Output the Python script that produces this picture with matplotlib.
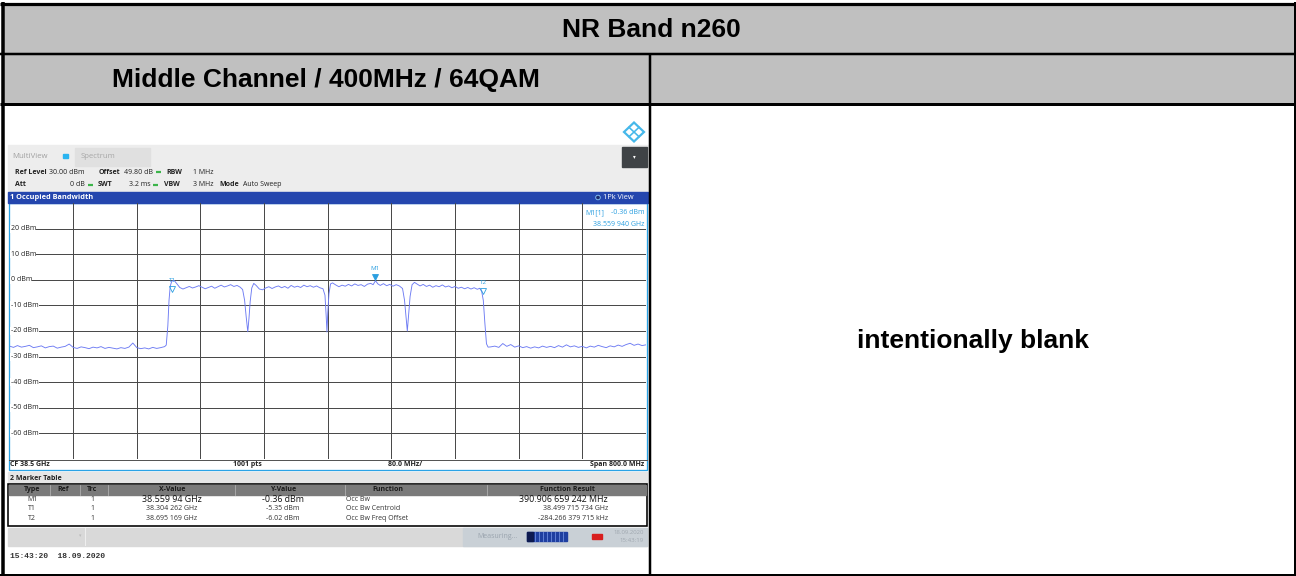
import matplotlib
matplotlib.use('Agg')
import matplotlib.pyplot as plt
from matplotlib.patches import Rectangle, Polygon

# ---------------- data ----------------
title_text = "NR Band n260"
subtitle_text = "Middle Channel / 400MHz / 64QAM"
blank_text = "intentionally blank"

freq_mhz = [
    38100, 38105, 38110, 38115, 38120, 38125, 38130, 38135, 38140, 38145,
    38150, 38155, 38160, 38165, 38170, 38175, 38180, 38185, 38190, 38195,
    38200, 38205, 38210, 38215, 38220, 38225, 38230, 38235, 38240, 38245,
    38250, 38255, 38260, 38265, 38270, 38275, 38280, 38285, 38290, 38295,
    38297, 38299, 38300.5, 38302, 38304, 38307, 38310, 38314, 38318, 38322,
    38326, 38330, 38334, 38338, 38342, 38346, 38350, 38354, 38358, 38362,
    38366, 38370, 38374, 38378, 38382, 38386, 38390, 38393, 38395.5, 38397.5,
    38399.5, 38401, 38402.5, 38404.5, 38407, 38410, 38414, 38418, 38422, 38426,
    38430, 38434, 38438, 38442, 38446, 38450, 38454, 38458, 38462, 38466,
    38470, 38474, 38478, 38482, 38486, 38490, 38494, 38496.5, 38498, 38499,
    38500, 38501.5, 38503.5, 38506, 38510, 38514, 38518, 38522, 38526, 38530,
    38534, 38538, 38542, 38546, 38550, 38554, 38557, 38560, 38563, 38566,
    38570, 38574, 38578, 38582, 38586, 38590, 38594, 38596.5, 38598.5, 38600,
    38601.5, 38603.5, 38606, 38609, 38612, 38616, 38620, 38624, 38628, 38632,
    38636, 38640, 38644, 38648, 38652, 38656, 38660, 38664, 38668, 38672,
    38676, 38680, 38684, 38688, 38691, 38693.5, 38695.5, 38697.5, 38699.5, 38701.5,
    38705, 38710, 38715, 38720, 38725, 38730, 38735, 38740, 38745, 38750,
    38755, 38760, 38765, 38770, 38775, 38780, 38785, 38790, 38795, 38800,
    38805, 38810, 38815, 38820, 38825, 38830, 38835, 38840, 38845, 38850,
    38855, 38860, 38865, 38870, 38875, 38880, 38885, 38890, 38895, 38900,
]
level_dbm = [
    -25.9, -26.4, -25.7, -26.3, -26.0, -25.6, -26.5, -26.2, -25.8, -26.6,
    -26.1, -25.9, -26.7, -26.3, -26.0, -25.1, -26.4, -26.8, -26.2, -26.5,
    -26.9, -26.3, -26.6, -26.1, -26.8, -26.4, -26.7, -27.0, -26.5, -26.8,
    -26.3, -24.7, -26.5, -26.9, -26.6, -27.0, -26.4, -26.8, -26.5, -26.1,
    -25.5, -18.0, -8.0, -2.5, -0.5, -0.3, -1.4, -3.0, -3.6, -3.1,
    -2.6, -3.2, -2.8, -2.3, -2.9, -3.5, -3.0, -2.5, -3.3, -2.7,
    -2.1, -2.8, -2.4, -1.9, -2.6, -2.2, -2.9, -3.8, -8.0, -14.5,
    -20.3, -15.0, -8.5, -3.2, -1.4, -2.2, -3.6, -3.9, -3.2, -2.7,
    -3.4, -2.8, -2.4, -3.1, -2.6, -3.3, -2.2, -2.9, -2.5, -3.0,
    -2.1, -2.7, -2.3, -2.9, -2.4, -3.1, -3.5, -6.0, -14.0, -20.4,
    -13.0, -5.5, -1.6, -1.2, -2.0, -2.7, -2.1, -2.5, -1.8, -2.4,
    -1.6, -2.2, -1.9, -2.6, -1.7, -1.4, -1.9, -0.36, -1.6, -2.2,
    -1.5, -2.3, -1.8, -2.5, -1.9, -2.4, -3.4, -8.0, -15.0, -20.0,
    -14.0, -6.5, -1.9, -1.0, -1.6, -2.4, -1.8, -2.6, -2.1, -2.9,
    -2.3, -2.7, -2.0, -2.8, -2.4, -3.1, -2.6, -3.3, -2.9, -3.5,
    -3.0, -3.6, -3.1, -3.7, -3.3, -4.6, -8.0, -17.0, -25.0, -26.3,
    -26.2, -25.9, -26.4, -24.9, -26.0, -25.3, -26.3, -25.8, -26.5, -26.1,
    -26.7, -26.2, -26.6, -25.9, -26.4, -26.0, -26.5, -25.7, -26.3, -25.4,
    -26.2, -25.8, -26.4, -26.0, -26.6, -25.9, -26.3, -25.6, -26.1, -26.5,
    -25.8, -26.2, -25.5, -26.0, -25.3, -24.8, -25.6, -25.1, -25.7, -25.4,
]
y_tick_values = [20, 10, 0, -10, -20, -30, -40, -50, -60]
y_tick_labels = ["20 dBm", "10 dBm", "0 dBm", "-10 dBm", "-20 dBm",
                 "-30 dBm", "-40 dBm", "-50 dBm", "-60 dBm"]
marker_names = ["M1", "T1", "T2"]
marker_freq_mhz = [38559.94, 38304.262, 38695.169]
marker_level_dbm = [-0.36, -5.35, -6.02]

table_header = ["Type", "Ref", "Trc", "X-Value", "Y-Value", "Function", "Function Result"]
table_type = ["M1", "T1", "T2"]
table_trc = ["1", "1", "1"]
table_x = ["38.559 94 GHz", "38.304 262 GHz", "38.695 169 GHz"]
table_y = ["-0.36 dBm", "-5.35 dBm", "-6.02 dBm"]
table_func = ["Occ Bw", "Occ Bw Centroid", "Occ Bw Freq Offset"]
table_result = ["390.906 659 242 MHz", "38.499 715 734 GHz", "-284.266 379 715 kHz"]

# ---------------- figure ----------------
W, H = 1296, 576
fig = plt.figure(figsize=(W / 100, H / 100), dpi=100)
bg = fig.add_axes([0, 0, 1, 1])
bg.set_xlim(0, W)
bg.set_ylim(H, 0)
bg.axis('off')
PX = 0.72  # one pixel in points

SF = 'Open Sans'

# table cells
bg.add_patch(Rectangle((2, 4), 1293, 100, color='#c0c0c0', zorder=0))
lk = dict(color='black', solid_capstyle='butt', zorder=5)
bg.plot([0, W], [3.5, 3.5], lw=3.2 * PX, **lk)
bg.plot([2.5, 2.5], [2, 576], lw=3.5 * PX, **lk)
bg.plot([1294.5, 1294.5], [2, 576], lw=2 * PX, **lk)
bg.plot([0, W], [575, 575], lw=2 * PX, **lk)
bg.plot([0, W], [53.5, 53.5], lw=2.5 * PX, **lk)
bg.plot([0, W], [103.5, 103.5], lw=3 * PX, **lk)
bg.plot([650, 650], [54, 576], lw=2.5 * PX, **lk)

hf = dict(family='Liberation Sans', weight='bold', fontsize=19, color='black',
          ha='center', va='center')
bg.text(651, 30, title_text, **hf)
bg.text(326, 80, subtitle_text, **hf)
bg.text(973, 341, blank_text, **hf)

# ---- screenshot chrome ----
# logo
cx, cy = 634, 132
bg.add_patch(Polygon([(cx - 10, cy), (cx, cy - 9.5), (cx + 10, cy), (cx, cy + 9.5)],
                     closed=True, fill=False, ec='#46b8ea', lw=2.2 * PX, zorder=3))
bg.plot([cx - 5, cx + 5], [cy - 4.7, cy + 4.7], color='#46b8ea', lw=1.6 * PX, zorder=3)
bg.plot([cx - 5, cx + 5], [cy + 4.7, cy - 4.7], color='#46b8ea', lw=1.6 * PX, zorder=3)

# gray toolbar / settings area
bg.add_patch(Rectangle((8, 145), 640, 47, color='#ededed', zorder=1))
bg.add_patch(Rectangle((75, 148), 75, 18, color='#e0e0e0', zorder=2))
bg.add_patch(Rectangle((622, 147), 25, 20, color='#3f4346', zorder=2))
bg.text(634.5, 157, '\u25be', fontsize=4, color='white', ha='center', va='center',
        family='DejaVu Sans', zorder=3)
bg.text(12, 157, 'MultiView', fontsize=5.6, color='#a0a0a0', family=SF, va='center', zorder=3)
bg.add_patch(Rectangle((63, 154), 5, 4, color='#2ab4f0', zorder=3))
bg.text(81, 157, 'Spectrum', fontsize=5.6, color='#a8a8a8', family=SF, va='center', zorder=3)

st = dict(fontsize=5.0, family=SF, va='center', color='#222222', zorder=3)
sb = dict(st, weight='bold')
gdot = dict(color='#3cb44a', lw=2.2 * PX, solid_capstyle='butt', zorder=3)
bg.text(15, 172, 'Ref Level', **sb)
bg.text(49, 172, '30.00 dBm', **st)
bg.text(99, 172, 'Offset', **sb)
bg.text(124, 172, '49.80 dB', **st)
bg.plot([156, 161], [172, 172], **gdot)
bg.text(166, 172, 'RBW', **sb)
bg.text(193, 172, '1 MHz', **st)
bg.text(15, 185, 'Att', **sb)
bg.text(70, 185, '0 dB', **st)
bg.plot([88, 93], [185, 185], **gdot)
bg.text(98, 185, 'SWT', **sb)
bg.text(129, 185, '3.2 ms', **st)
bg.plot([153, 158], [185, 185], **gdot)
bg.text(164, 185, 'VBW', **sb)
bg.text(193, 185, '3 MHz', **st)
bg.text(219, 185, 'Mode', **sb)
bg.text(243, 185, 'Auto Sweep', **st)

# blue title bar
bg.add_patch(Rectangle((8, 192), 640, 11, color='#2446ae', zorder=2))
bg.text(10, 197.5, '1 Occupied Bandwidth', fontsize=5.3, family=SF, weight='bold',
        color='white', va='center', zorder=3)
bg.add_patch(plt.Circle((598, 197.5), 2.3, fc='#1a2a6e', ec='#8fd0ff', lw=0.8 * PX, zorder=3))
bg.text(603, 197.5, '1Pk View', fontsize=5.3, family=SF, color='white', va='center', zorder=3)

# plot frame (white area + blue border)
bg.add_patch(Rectangle((8.5, 203), 638.5, 267, fc='white', ec='#2aa3e6', lw=1.3 * PX, zorder=1))
bg.plot([9, 646.5], [459.5, 459.5], color='#555555', lw=1 * PX, zorder=2)
fb = dict(fontsize=5.0, family=SF, weight='bold', color='#222222', va='center', zorder=3)
bg.text(10, 464.5, 'CF 38.5 GHz', **fb)
bg.text(247, 464.5, '1001 pts', ha='center', **fb)
bg.text(405, 464.5, '80.0 MHz/', ha='center', **fb)
bg.text(644, 464.5, 'Span 800.0 MHz', ha='right', **fb)

# marker table
bg.add_patch(Rectangle((8, 472), 639, 11, color='#e6e6e6', zorder=1))
bg.text(10, 478, '2 Marker Table', fontsize=5.0, family=SF, weight='bold', color='#222222',
        va='center', zorder=3)
bg.add_patch(Rectangle((8, 483.5), 638.5, 42.5, fc='white', ec='black', lw=1.6 * PX, zorder=2))
bg.add_patch(Rectangle((9, 484.5), 637, 10, color='#7a7a7a', zorder=3))
for xs in [50, 80, 108, 235, 345, 487]:
    bg.plot([xs, xs], [484.5, 494.5], color='#b0b0b0', lw=0.8 * PX, zorder=4)
hx = [32, 63, 92, 172, 283, 388, 567]
for t, x in zip(table_header, hx):
    bg.text(x, 489.5, t, fontsize=5.0, family=SF, weight='bold', color='#1a1a1a',
            ha='center', va='center', zorder=5)
ry = [499.5, 509, 518]
for i in range(3):
    big = (i == 0)
    fs = 6.4 if big else 5.0
    col = '#111111' if big else '#333333'
    rk = dict(family=SF, va='center', zorder=5, color='#333333', fontsize=5.0)
    bg.text(32, ry[i], table_type[i], ha='center', **rk)
    bg.text(92, ry[i], table_trc[i], ha='center', **rk)
    bg.text(172, ry[i], table_x[i], ha='center', fontsize=fs, color=col,
            family=SF, va='center', zorder=5)
    bg.text(283, ry[i], table_y[i], ha='center', fontsize=fs, color=col,
            family=SF, va='center', zorder=5)
    bg.text(346, ry[i], table_func[i], ha='left', **rk)
    bg.text(608, ry[i], table_result[i], ha='right', fontsize=fs, color=col,
            family=SF, va='center', zorder=5)

# status bar
bg.add_patch(Rectangle((8, 527.5), 639, 18, color='#d9d9d9', zorder=1))
bg.add_patch(Rectangle((463, 527.5), 184, 18, color='#c9d0d6', zorder=2))
bg.plot([85, 85], [528, 545], color='#eeeeee', lw=1 * PX, zorder=3)
bg.text(80, 536, '\u25be', fontsize=3.5, color='#bbbbbb', ha='center', va='center',
        family='DejaVu Sans', zorder=3)
bg.text(477, 536.5, 'Measuring...', fontsize=5.0, family=SF, color='#9aa4ae', va='center', zorder=3)
bg.add_patch(Rectangle((527, 532), 40, 9, color='#1f3fa0', zorder=3))
bg.add_patch(Rectangle((527, 532), 6, 9, color='#0d1a50', zorder=4))
for xs in range(535, 567, 4):
    bg.plot([xs, xs], [532, 541], color='#6f8fe0', lw=0.8 * PX, zorder=4)
bg.add_patch(Rectangle((592, 534), 10, 5, color='#d81e1e', zorder=3))
bg.text(644, 532, '18.09.2020', fontsize=4.3, family=SF, color='#a0a8b0', ha='right',
        va='center', zorder=3)
bg.text(644, 541, '15:43:19', fontsize=4.3, family=SF, color='#a0a8b0', ha='right',
        va='center', zorder=3)

bg.text(10, 557, '15:43:20  18.09.2020', fontsize=5.8, family='Liberation Mono',
        weight='bold', color='#333333', va='center', zorder=3)

# ---- spectrum axes ----
ax = fig.add_axes([9.5 / W, (H - 459) / H, 636.5 / W, 256 / H])
ax.set_zorder(5)
ax.patch.set_alpha(0)
ax.set_xlim(38100, 38900)
ax.set_ylim(-70, 30)
for s in ax.spines.values():
    s.set_visible(False)
ax.set_xticks([38100 + 80 * k for k in range(1, 10)])
ax.set_yticks([30 - 10 * k for k in range(1, 10)])
ax.tick_params(length=0, labelbottom=False, labelleft=False)
ax.grid(True, color='#4a4a4a', lw=1 * PX)
ax.plot(freq_mhz, level_dbm, color='#6d7bf3', lw=0.9 * PX, zorder=3)
for v, lab in zip(y_tick_values, y_tick_labels):
    ax.text(38101.5, v, lab, fontsize=5.0, family=SF, color='#222222', va='center',
            ha='left', zorder=4,
            bbox=dict(fc='white', ec='none', pad=0.3))

mc = '#2b9fe0'
for name, fx, fy in zip(marker_names, marker_freq_mhz, marker_level_dbm):
    filled = name.startswith('M')
    ax.plot([fx], [fy + 1.6], marker='v', ms=4, mfc=mc if filled else 'none',
            mec=mc, mew=0.6, ls='none', zorder=5)
    ax.annotate(name, (fx, fy), xytext=(0, 9), textcoords='offset points',
                fontsize=4.5, family=SF, color=mc, ha='center', va='center', zorder=5)
ax.text(0.905, 0.975, 'M1[1]', transform=ax.transAxes, fontsize=5.0, family=SF,
        color=mc, ha='left', va='top')
ax.text(0.997, 0.975, '-0.36 dBm', transform=ax.transAxes, fontsize=5.0, family=SF,
        color=mc, ha='right', va='top')
ax.text(0.997, 0.93, '38.559 940 GHz', transform=ax.transAxes, fontsize=5.0, family=SF,
        color=mc, ha='right', va='top')

fig.savefig('out.png', dpi=100)
